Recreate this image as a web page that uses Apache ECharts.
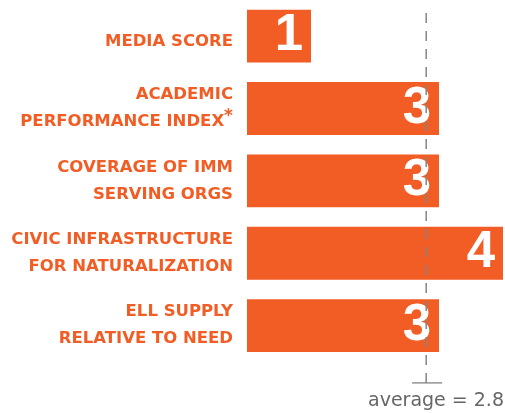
<!DOCTYPE html>
<html>
<head>
<meta charset="utf-8">
<script src="https://cdn.jsdelivr.net/npm/echarts@6/dist/echarts.min.js"></script>
<style>
  html, body { margin: 0; padding: 0; background: #fff; }
  #chart { width: 505px; height: 413px; }
</style>
</head>
<body>
<div id="chart"></div>
<script>
// Indicator names (top to bottom) and their scores
const categories = [
  'MEDIA SCORE',
  'ACADEMIC\nPERFORMANCE INDEX*',
  'COVERAGE OF IMM\nSERVING ORGS',
  'CIVIC INFRASTRUCTURE\nFOR NATURALIZATION',
  'ELL SUPPLY\nRELATIVE TO NEED'
];
const scores = [1, 3, 3, 4, 3];
const average = 2.8;

const ORANGE = '#F15D24';
const GREY = '#848484';

const chart = echarts.init(document.getElementById('chart'), null, { renderer: 'canvas' });

chart.setOption({
  animation: false,
  backgroundColor: '#ffffff',
  title: {
    text: 'average = ' + average,
    right: 1,
    top: 392,
    padding: 0,
    textStyle: { fontFamily: 'DejaVu Sans', fontSize: 19, fontWeight: 'normal', color: '#666666' }
  },
  grid: [
    { left: 247, width: 256, top: -0.75, height: 362.5 },
    // overlay grid for the average marker, reaching below the bars
    { left: 247, width: 256, top: 10, height: 373 }
  ],
  xAxis: [
    { gridIndex: 0, type: 'value', min: 0, max: 4, show: false },
    { gridIndex: 1, type: 'value', min: 0, max: 4, show: false }
  ],
  yAxis: [
    {
      gridIndex: 0,
      type: 'category',
      inverse: true,
      data: categories,
      axisLine: { show: false },
      axisTick: { show: false },
      axisLabel: {
        margin: 14,
        align: 'right',
        fontFamily: 'DejaVu Sans',
        fontWeight: 'bold',
        fontSize: 16.5,
        lineHeight: 27,
        color: ORANGE,
        formatter: function (v, i) {
          if (i === 0) return '{m|' + v + '}';
          return v.replace('*', '{s|*}');
        },
        rich: {
          m: { fontFamily: 'DejaVu Sans', fontWeight: 'bold', fontSize: 16.5, color: ORANGE, padding: [12, 0, 0, 0] },
          s: { fontFamily: 'DejaVu Sans', fontWeight: 'bold', fontSize: 17, color: ORANGE, padding: [0, 0, 10, 0] }
        }
      }
    },
    { gridIndex: 1, type: 'value', min: 0, max: 1, show: false }
  ],
  series: [
    {
      type: 'bar',
      xAxisIndex: 0,
      yAxisIndex: 0,
      data: scores,
      barCategoryGap: '27%',
      itemStyle: { color: ORANGE },
      label: {
        show: true,
        position: 'insideRight',
        distance: 8,
        color: '#ffffff',
        fontFamily: 'Liberation Sans',
        fontWeight: 'bold',
        fontSize: 51
      },
      z: 2
    },
    {
      // dashed average line
      type: 'line',
      xAxisIndex: 1,
      yAxisIndex: 1,
      data: [[average, 0], [average, 1]],
      symbol: 'none',
      lineStyle: { color: GREY, width: 1.5, type: [10, 8] },
      z: 10
    },
    {
      // small base tick under the average line
      type: 'line',
      xAxisIndex: 1,
      yAxisIndex: 1,
      data: [[2.58, 0], [3.05, 0]],
      symbol: 'none',
      lineStyle: { color: GREY, width: 1.5 },
      z: 10
    }
  ]
});
</script>
</body>
</html>
